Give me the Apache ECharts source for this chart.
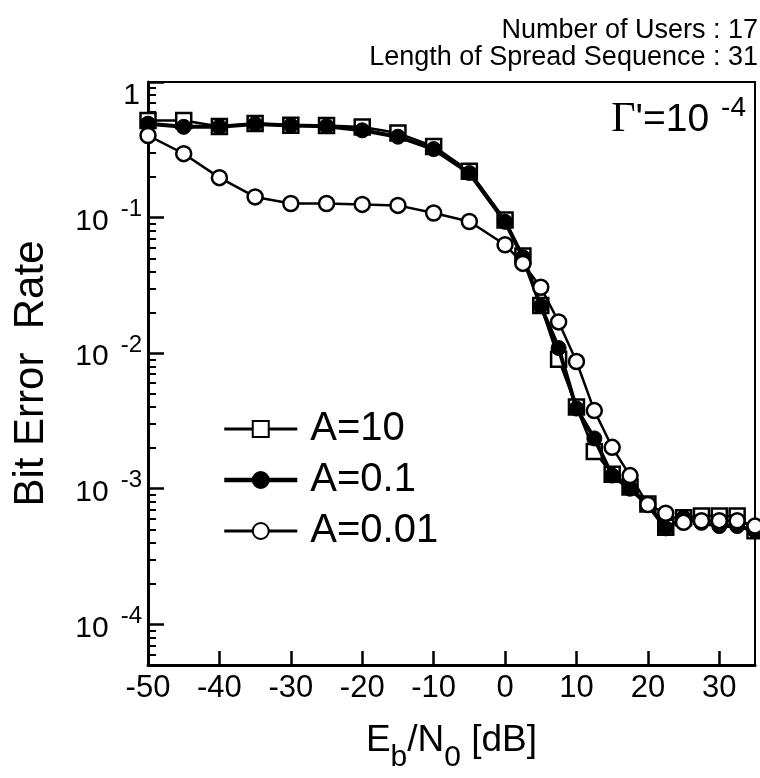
<!DOCTYPE html>
<html>
<head>
<meta charset="utf-8">
<script src="https://cdn.jsdelivr.net/npm/echarts@6/dist/echarts.min.js"></script>
<style>
  html, body { margin: 0; padding: 0; background: #fff; }
  #chart { width: 760px; height: 778px; }
</style>
</head>
<body>
<div id="chart"></div>
<script>
// Eb/N0 sample points [dB]
const ebno = [-50, -45, -40, -35, -30, -25, -20, -15, -10, -5, 0, 2.5, 5, 7.5, 10, 12.5, 15, 17.5, 20, 22.5, 25, 27.5, 30, 32.5, 35];

// Bit error rate for each amplitude ratio A
const berA10 = [0.52, 0.52, 0.47, 0.495, 0.48, 0.478, 0.465, 0.42, 0.335, 0.22, 0.096, 0.052, 0.0225, 0.0090, 0.0040, 0.00188, 0.00128, 0.00103, 0.00077, 0.00052, 0.00061, 0.00063, 0.00063, 0.00063, 0.00049];
const berA01 = [0.493, 0.467, 0.467, 0.49, 0.478, 0.472, 0.44, 0.395, 0.32, 0.213, 0.093, 0.051, 0.0222, 0.0109, 0.0039, 0.00235, 0.00125, 0.00100, 0.00076, 0.00051, 0.00061, 0.00056, 0.00053, 0.00053, 0.00049];
const berA001 = [0.403, 0.296, 0.197, 0.142, 0.127, 0.127, 0.125, 0.123, 0.108, 0.0936, 0.063, 0.0459, 0.0306, 0.0170, 0.00867, 0.00377, 0.00202, 0.00125, 0.000765, 0.000659, 0.000565, 0.00058, 0.000581, 0.00058, 0.00053];

const seriesNames = ['A=10', 'A=0.1', 'A=0.01'];

// Axis ticks
const xTicks = [-50, -40, -30, -20, -10, 0, 10, 20, 30];
const yMajorTicks = [1e-4, 1e-3, 1e-2, 1e-1, 1];
const yMin = 5e-5;
const yMax = 1;

// Minor ticks at 2..9 x 10^n inside the axis range
const yMinorTicks = [];
for (let e = -5; e <= -1; e++) {
  for (let k = 2; k <= 9; k++) {
    const v = k * Math.pow(10, e);
    if (v >= yMin && v < yMax) yMinorTicks.push(v);
  }
}

const SANS = '"Liberation Sans", Arial, Helvetica, sans-serif';
const SERIF = '"Liberation Serif", "Times New Roman", serif';

const pairs = arr => ebno.map((x, i) => [x, arr[i]]);

const chart = echarts.init(document.getElementById('chart'), null, { renderer: 'canvas' });

chart.setOption({
  animation: false,
  backgroundColor: '#fff',
  grid: {
    left: 148, right: 5, top: 82, bottom: 94,
    show: true, borderColor: '#000', borderWidth: 2, backgroundColor: 'transparent'
  },
  legend: {
    orient: 'vertical',
    left: 217, top: 404,
    itemWidth: 73, itemHeight: 20, itemGap: 11,
    selectedMode: false,
    textStyle: { fontFamily: SANS, fontSize: 40, lineHeight: 40, color: '#000', padding: [0, 0, 0, 8] },
    data: [
      { name: seriesNames[0], lineStyle: { width: 3 } },
      { name: seriesNames[1], lineStyle: { width: 4.5 } },
      { name: seriesNames[2], lineStyle: { width: 3 } }
    ]
  },
  xAxis: {
    type: 'value',
    min: -50, max: 35,
    name: '{n|E}{sub|b}{n|/N}{sub|0}{n| [dB]}',
    nameLocation: 'middle',
    nameGap: 35,
    nameTextStyle: {
      color: '#000',
      rich: {
        n: { fontFamily: SANS, fontSize: 37, lineHeight: 37, color: '#000' },
        sub: { fontFamily: SANS, fontSize: 30, lineHeight: 30, color: '#000', padding: [34, 0, 0, 0] }
      }
    },
    axisLine: { show: true, onZero: false, lineStyle: { color: '#000', width: 3 } },
    axisTick: { show: true, inside: true, length: 14, customValues: xTicks, lineStyle: { color: '#000', width: 2.5 } },
    axisLabel: { customValues: xTicks, color: '#000', fontFamily: SANS, fontSize: 31, margin: 8 },
    splitLine: { show: false }
  },
  yAxis: [
    {
      type: 'log', logBase: 10,
      min: yMin, max: yMax,
      name: 'Bit Error  Rate',
      nameLocation: 'middle',
      nameGap: 96,
      nameRotate: 90,
      nameTextStyle: { color: '#000', fontFamily: SANS, fontSize: 42 },
      axisLine: { show: true, onZero: false, lineStyle: { color: '#000', width: 3 } },
      axisTick: { show: true, inside: true, length: 16, customValues: yMajorTicks, lineStyle: { color: '#000', width: 2.5 } },
      axisLabel: {
        customValues: yMajorTicks,
        margin: 6,
        formatter: v => {
          const e = Math.round(Math.log10(v));
          return e === 0 ? '{one|1}' : '{b|10}{s|' + e + '}';
        },
        rich: {
          one: { fontFamily: SANS, fontSize: 30, color: '#000', padding: [28, 2, 0, 0] },
          b: { fontFamily: SANS, fontSize: 30, color: '#000', padding: [8, 0, 0, 0] },
          s: { fontFamily: SANS, fontSize: 24, color: '#000', padding: [0, 0, 16, 12] }
        }
      },
      splitLine: { show: false }
    },
    {
      type: 'log', logBase: 10,
      min: yMin, max: yMax,
      position: 'left',
      axisLine: { show: false, onZero: false },
      axisTick: { show: true, inside: true, length: 8, customValues: yMinorTicks, lineStyle: { color: '#000', width: 2 } },
      axisLabel: { show: false },
      splitLine: { show: false }
    }
  ],
  graphic: [
    {
      type: 'text',
      x: 758, y: 44,
      style: {
        text: 'Number of Users : 17\nLength of Spread Sequence : 31',
        fontFamily: SANS, fontSize: 27, lineHeight: 27,
        fill: '#000', align: 'right', verticalAlign: 'middle'
      }
    },
    {
      type: 'text',
      x: 746, y: 120,
      style: {
        text: "{g|\u0393}{t|'=10}{s|-4}",
        align: 'right', verticalAlign: 'middle',
        rich: {
          g: { fontFamily: SERIF, fontSize: 42, fill: '#000' },
          t: { fontFamily: SANS, fontSize: 39, fill: '#000' },
          s: { fontFamily: SANS, fontSize: 28, fill: '#000', padding: [0, 0, 24, 12] }
        }
      }
    }
  ],
  series: [
    {
      name: seriesNames[0], type: 'line', data: pairs(berA10),
      symbol: 'rect', symbolSize: 15,
      lineStyle: { color: '#000', width: 2.5 },
      itemStyle: { color: '#fff', borderColor: '#000', borderWidth: 2.5 },
      silent: true, z: 2
    },
    {
      name: seriesNames[1], type: 'line', data: pairs(berA01),
      symbol: 'circle', symbolSize: 15,
      lineStyle: { color: '#000', width: 4 },
      itemStyle: { color: '#000', borderColor: '#000', borderWidth: 1 },
      silent: true, z: 3
    },
    {
      name: seriesNames[2], type: 'line', data: pairs(berA001),
      symbol: 'circle', symbolSize: 15,
      lineStyle: { color: '#000', width: 2.5 },
      itemStyle: { color: '#fff', borderColor: '#000', borderWidth: 2.5 },
      silent: true, z: 4
    }
  ]
});
</script>
</body>
</html>
